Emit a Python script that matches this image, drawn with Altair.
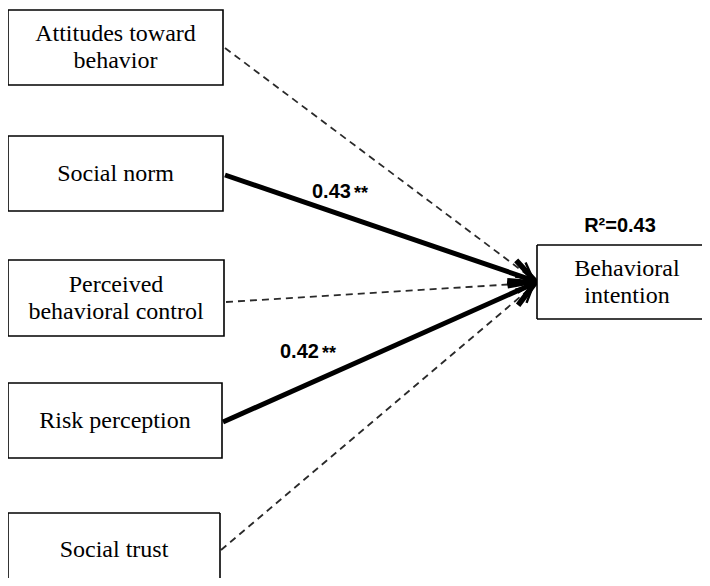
import math
import altair as alt
import pandas as pd

# ---- content -------------------------------------------------------------
predictors = ["Attitudes toward\nbehavior", "Social norm", "Perceived\nbehavioral control",
              "Risk perception", "Social trust"]
outcome = "Behavioral\nintention"
path_coef = ["", "0.43", "", "0.42", ""]
path_sig = ["", "**", "", "**", ""]
significant = [False, True, False, True, False]
r2_label = "R²=0.43"

# ---- diagram layout (pixel grid of the figure) -----------------------------
box_x0 = [8, 8, 8, 8, 8]
box_x1 = [223, 223, 224, 222, 220]
box_y0 = [10, 136, 260, 383, 513]
box_y1 = [85, 211, 336, 458, 586]
box_open = [False, False, False, False, True]   # bottom box runs off the figure
out_box = [537, 245, 710, 319]                  # outcome box runs off the right edge
edge_x0 = [225, 225, 226, 223, 221]
edge_y0 = [48, 175, 302, 422, 550]
edge_x1 = [533, 535, 533, 535, 533]
edge_y1 = [279, 281, 283, 283, 286]
coef_x = [0, 312, 0, 280, 0]
coef_y = [0, 198, 0, 358, 0]
sig_dx = 42
sig_dy = 1
r2_pos = [620, 232]
line_h = 27

# ---- tables --------------------------------------------------------------
boxes = pd.DataFrame({
    "label": predictors + [outcome],
    "x0": box_x0 + [out_box[0]], "x1": box_x1 + [out_box[2]],
    "y0": box_y0 + [out_box[1]], "y1": box_y1 + [out_box[3]],
    "open": box_open + [True],
})
boxes["cx"] = (boxes["x0"] + boxes["x1"]) / 2
boxes.loc[5, "cx"] = 627
boxes["cy"] = (boxes["y0"] + boxes["y1"]) / 2
boxes.loc[4, "cy"] = 550
boxes["cy"] = boxes["cy"] - boxes["label"].str.count("\n") * line_h / 2

# border segments of the two boxes that leave the figure
segs = []
b = boxes.loc[4]
segs += [(b.x0, b.y0, b.x1, b.y0), (b.x0, b.y0, b.x0, b.y1), (b.x1, b.y0, b.x1, b.y1)]
b = boxes.loc[5]
segs += [(b.x0, b.y0, b.x1, b.y0), (b.x0, b.y0, b.x0, b.y1), (b.x0, b.y1, b.x1, b.y1)]
segs = pd.DataFrame(segs, columns=["x0", "y0", "x1", "y1"])

edges = pd.DataFrame({"x0": edge_x0, "y0": edge_y0, "x1": edge_x1, "y1": edge_y1,
                      "solid": significant})
edges["angle"] = [math.degrees(math.atan2(b - a, d - c)) % 360
                  for a, b, c, d in zip(edges.y0, edges.y1, edges.x0, edges.x1)]
edges["hs"] = [2400 if s else 1000 for s in significant]
edges["sw"] = [5.5 if s else 2.4 for s in significant]

labels = pd.DataFrame({"coef": path_coef, "sig": path_sig, "x": coef_x, "y": coef_y})
labels = labels[labels["coef"] != ""].copy()
labels["sx"] = labels["x"] + sig_dx
labels["sy"] = labels["y"] + sig_dy

r2 = pd.DataFrame({"t": [r2_label], "x": [r2_pos[0]], "y": [r2_pos[1]]})

# ---- scales --------------------------------------------------------------
xs = alt.Scale(domain=[8, 702], nice=False, zero=False)
ys = alt.Scale(domain=[8, 578], nice=False, zero=False, reverse=True)


def X(f):
    return alt.X(f, type="quantitative", scale=xs, axis=None)


def Y(f):
    return alt.Y(f, type="quantitative", scale=ys, axis=None)


dashed = alt.Chart(edges[~edges.solid]).mark_rule(
    strokeDash=[7, 5], strokeWidth=1.8, color="#2a2a2a"
).encode(x=X("x0"), y=Y("y0"), x2="x1:Q", y2="y1:Q")

solid = alt.Chart(edges[edges.solid]).mark_rule(
    strokeWidth=5, color="black"
).encode(x=X("x0"), y=Y("y0"), x2="x1:Q", y2="y1:Q")

heads = alt.Chart(edges).mark_point(
    shape="M -1 -0.55 L 0 0 L -1 0.55", filled=False, opacity=1, color="black",
    strokeJoin="miter"
).encode(
    x=X("x1"), y=Y("y1"),
    angle=alt.Angle("angle:Q", scale=None),
    size=alt.Size("hs:Q", scale=None, legend=None),
    strokeWidth=alt.StrokeWidth("sw:Q", scale=None, legend=None),
)

closed_rects = alt.Chart(boxes[~boxes.open]).mark_rect(
    fill="white", stroke="black", strokeWidth=1.6
).encode(x=X("x0"), x2="x1:Q", y=Y("y0"), y2="y1:Q")

open_rects = alt.Chart(boxes[boxes.open]).mark_rect(
    fill="white", strokeWidth=0
).encode(x=X("x0"), x2="x1:Q", y=Y("y0"), y2="y1:Q")

borders = alt.Chart(segs).mark_rule(
    strokeWidth=1.6, color="black"
).encode(x=X("x0"), y=Y("y0"), x2="x1:Q", y2="y1:Q")

node_text = alt.Chart(boxes).mark_text(
    font="Liberation Serif", fontSize=24, lineBreak="\n", lineHeight=line_h,
    align="center", baseline="middle", color="black"
).encode(x=X("cx"), y=Y("cy"), text="label:N")

coef_text = alt.Chart(labels).mark_text(
    font="Liberation Sans", fontWeight="bold", fontSize=20, align="left",
    baseline="alphabetic", color="black"
).encode(x=X("x"), y=Y("y"), text="coef:N")

sig_text = alt.Chart(labels).mark_text(
    font="Liberation Sans", fontWeight="bold", fontSize=18, align="left",
    baseline="alphabetic", color="black"
).encode(x=X("sx"), y=Y("sy"), text="sig:N")

r2_text = alt.Chart(r2).mark_text(
    font="Liberation Sans", fontWeight="bold", fontSize=20, align="center",
    baseline="alphabetic", color="black"
).encode(x=X("x"), y=Y("y"), text="t:N")

chart = alt.layer(
    dashed, solid, heads, closed_rects, open_rects, borders,
    node_text, coef_text, sig_text, r2_text
).properties(
    width=694, height=570, padding=0,
    autosize=alt.AutoSizeParams(type="none"),
).configure_view(stroke=None)

chart.save("out.html", embed_options={"renderer": "svg", "actions": False})
